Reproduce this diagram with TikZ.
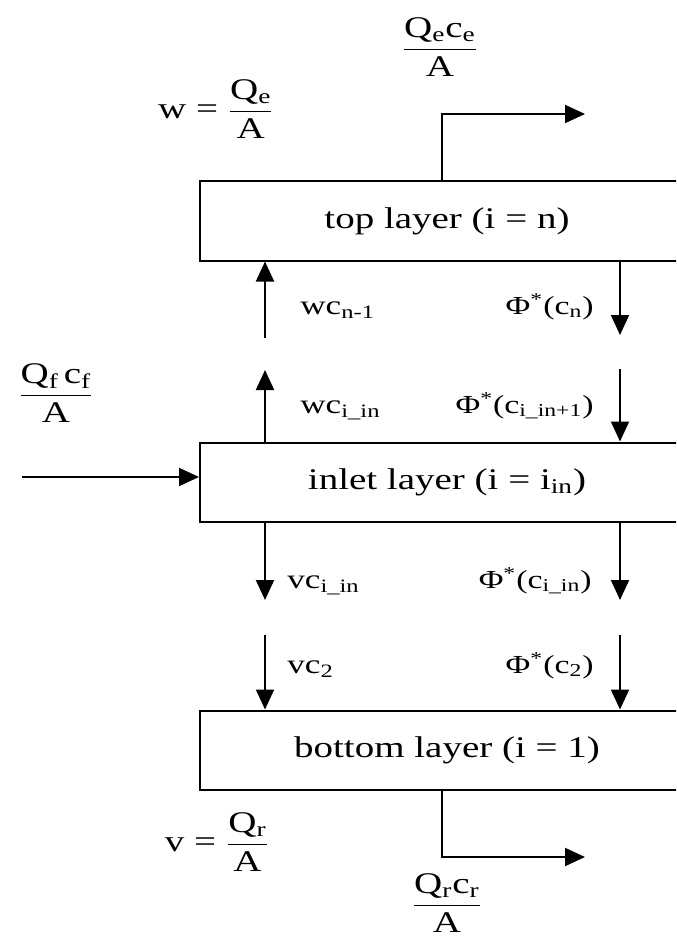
\documentclass[tikz,border=0pt]{standalone}
\usepackage{amsmath}
\usepackage{fontspec}
\setmainfont[FakeStretch=1.3]{Liberation Serif}
\usetikzlibrary{positioning, arrows.meta, calc}

\begin{document}
\begin{tikzpicture}[x=0.5pt, y=-0.5pt,
    every node/.style={font=\fontsize{15}{18}\selectfont, inner sep=0pt},
    layer/.style={rectangle, draw, line width=1pt, minimum width=247pt, minimum height=39.5pt},
    flow/.style={-{Triangle[length=10pt, width=9pt]}, line width=1pt},
    wlbl/.style={anchor=base west, font=\fontsize{13.5}{16}\selectfont},
    plbl/.style={anchor=base east, font=\fontsize{13}{16}\selectfont}]

  \clip (0,0) rectangle (676,941);

  % the three layers (right edge runs off the page)
  \node[layer] (top) at (447,221) {top layer (i = n)};
  \node[layer] (inlet) at (447,482) {inlet layer (i = i\textsubscript{in})};
  \node[layer] (bottom) at (447,750) {bottom layer (i = 1)};

  % columns and free ends
  \coordinate (xcol) at (442,0);
  \coordinate (eout) at (585,114);
  \coordinate (rout) at (585,857);
  \coordinate (feed) at (22,477);
  \coordinate (wn) at (265,338);
  \coordinate (wi) at (265,370);
  \coordinate (phn) at (620,335);
  \coordinate (phi) at (620,369);
  \coordinate (vi) at (265,600);
  \coordinate (phv) at (620,600);
  \coordinate (v2) at (265,635);
  \coordinate (ph2) at (620,635);

  \draw[flow] (top.north -| xcol) |- (eout);
  \draw[flow] (bottom.south -| xcol) |- (rout);
  \draw[flow] (feed) -- (feed -| inlet.west);
  \draw[flow] (wn) -- (top.south -| wn);
  \draw[flow] (top.south -| phn) -- (phn);
  \draw[flow] (inlet.north -| wi) -- (wi);
  \draw[flow] (phi) -- (inlet.north -| phi);
  \draw[flow] (inlet.south -| vi) -- (vi);
  \draw[flow] (inlet.south -| phv) -- (phv);
  \draw[flow] (v2) -- (bottom.north -| v2);
  \draw[flow] (ph2) -- (bottom.north -| ph2);

  % flux labels
  \node (qece) at (440,47) {$\dfrac{\text{Q\textsubscript{e}c\textsubscript{e}}}{\text{A}}$};
  \node (wdef) at (216,109) {w = $\dfrac{\text{Q\textsubscript{e}}}{\text{A}}$};
  \node (qfcf) at (56,393) {$\dfrac{\text{Q\textsubscript{f}\,c\textsubscript{f}}}{\text{A}}$};
  \node (vdef) at (217,842) {v = $\dfrac{\text{Q\textsubscript{r}}}{\text{A}}$};
  \node (qrcr) at (447,903) {$\dfrac{\text{Q\textsubscript{r}c\textsubscript{r}}}{\text{A}}$};

  \node[wlbl] (wcn) at (300,314) {wc\textsubscript{n-1}};
  \node[plbl] (phcn) at (594,314) {Φ\textsuperscript{*}(c\textsubscript{n})};
  \node[wlbl] (wci) at (300,413) {wc\textsubscript{i\_in}};
  \node[plbl] (phci) at (594,413) {Φ\textsuperscript{*}(c\textsubscript{i\_in+1})};
  \node[wlbl] (vci) at (287,588) {vc\textsubscript{i\_in}};
  \node[plbl] (phvi) at (592,588) {Φ\textsuperscript{*}(c\textsubscript{i\_in})};
  \node[wlbl] (vc2) at (287,673) {vc\textsubscript{2}};
  \node[plbl] (phc2) at (594,673) {Φ\textsuperscript{*}(c\textsubscript{2})};
\end{tikzpicture}
\end{document}
